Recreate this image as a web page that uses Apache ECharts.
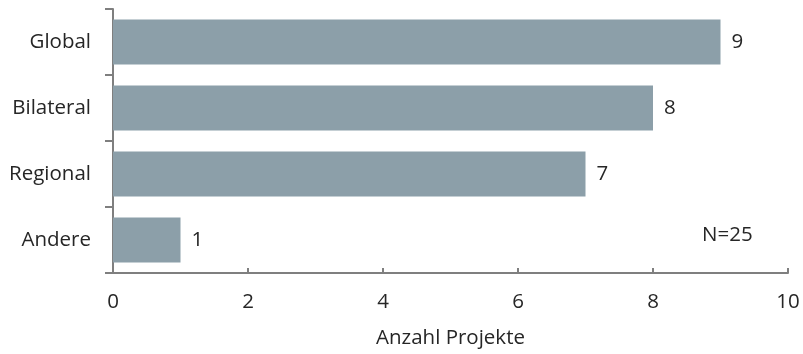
<!DOCTYPE html>
<html><head><meta charset="utf-8">
<script src="https://cdn.jsdelivr.net/npm/echarts@6/dist/echarts.min.js"></script>
<style>html,body{margin:0;padding:0;background:#fff}#c{width:803px;height:354px}</style>
</head><body><div id="c"></div>
<script>
const categories = ['Global', 'Bilateral', 'Regional', 'Andere'];
const values = [9, 8, 7, 1];
const xTicks = [0, 2, 4, 6, 8, 10];
const xTitle = 'Anzahl Projekte';
const note = 'N=25';

const font = '"Open Sans", "Noto Sans", sans-serif';
const fs = 20.5;
const axisColor = '#7f7f7f';
const chart = echarts.init(document.getElementById('c'), null, {renderer: 'canvas'});
chart.setOption({
  animation: false,
  grid: {left: 113, right: 15, top: 9, bottom: 80, containLabel: false},
  xAxis: {
    type: 'value', min: xTicks[0], max: xTicks[xTicks.length - 1], interval: 2,
    name: xTitle, nameLocation: 'middle', nameGap: 55,
    nameTextStyle: {fontFamily: font, fontSize: fs, color: '#262626'},
    axisLine: {show: true, lineStyle: {color: axisColor, width: 2}},
    axisTick: {show: true, inside: true, length: 5, lineStyle: {color: axisColor, width: 2}},
    splitLine: {show: false},
    axisLabel: {fontFamily: font, fontSize: fs, color: '#262626', margin: 19}
  },
  yAxis: {
    type: 'category', data: categories, inverse: true,
    axisLine: {show: true, lineStyle: {color: axisColor, width: 2}},
    axisTick: {show: true, length: 8, lineStyle: {color: axisColor, width: 2}},
    axisLabel: {fontFamily: font, fontSize: fs, color: '#262626', margin: 22}
  },
  series: [{
    type: 'bar', data: values, barWidth: '68%',
    itemStyle: {color: '#8c9fa9'},
    label: {show: true, position: 'right', distance: 11, fontFamily: font, fontSize: fs, color: '#262626'}
  }],
  graphic: [{
    type: 'text', left: 702, top: 225,
    style: {text: note, fontFamily: font, fontSize: fs, fill: '#262626'}
  }]
});
</script></body></html>
